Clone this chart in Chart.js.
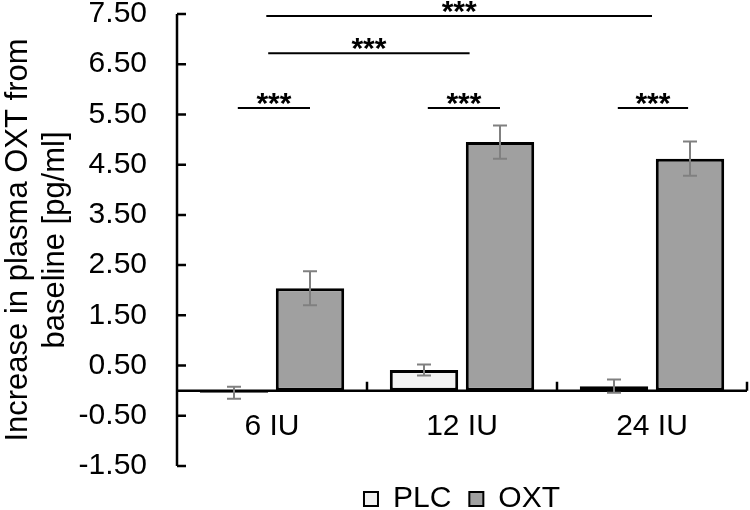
<!DOCTYPE html>
<html>
<head>
<meta charset="utf-8">
<script src="https://cdn.jsdelivr.net/npm/chart.js@4/dist/chart.umd.min.js"></script>
<style>
    html, body { margin: 0; padding: 0; background: #fff; }
    #wrap { width: 750px; height: 510px; }
</style>
</head>
<body>
<div id="wrap"><canvas id="oxt-chart"></canvas></div>
<script>
// Plasma OXT increase per dose
const categories = ['6 IU', '12 IU', '24 IU'];
const plcMeans = [-0.04, 0.41, 0.09];
const plcErrors = [0.12, 0.11, 0.13];
const oxtMeans = [2.04, 4.95, 4.62];
const oxtErrors = [0.34, 0.33, 0.34];
const yTitle = ['Increase in plasma OXT from', 'baseline [pg/ml]'];

// significance brackets, x in category units, y in data units
const sigFrom = [-0.18, 0.82, 1.82, -0.02, -0.03];
const sigTo = [0.2, 1.2, 2.19, 1.04, 2.0];
const sigLevel = [5.63, 5.63, 5.63, 6.72, 7.46];
const sigLabel = ['***', '***', '***', '***', '***'];

const FONT = "'Liberation Sans', Arial, sans-serif";

const errorBarPlugin = {
    id: 'errorBars',
    afterDatasetsDraw(chart) {
        const ctx = chart.ctx;
        const y = chart.scales.y;
        const errs = [plcErrors, oxtErrors];
        ctx.save();
        ctx.strokeStyle = '#808080';
        ctx.lineWidth = 2;
        chart.data.datasets.forEach((ds, i) => {
            chart.getDatasetMeta(i).data.forEach((bar, j) => {
                const top = y.getPixelForValue(ds.data[j] + errs[i][j]);
                const bottom = y.getPixelForValue(ds.data[j] - errs[i][j]);
                ctx.beginPath();
                ctx.moveTo(bar.x, top);
                ctx.lineTo(bar.x, bottom);
                ctx.moveTo(bar.x - 7, top);
                ctx.lineTo(bar.x + 7, top);
                ctx.moveTo(bar.x - 7, bottom);
                ctx.lineTo(bar.x + 7, bottom);
                ctx.stroke();
            });
        });
        ctx.restore();
    }
};

const axesPlugin = {
    id: 'axesLines',
    afterDatasetsDraw(chart) {
        const ctx = chart.ctx;
        const {x, y} = chart.scales;
        const area = chart.chartArea;
        const zero = y.getPixelForValue(0);
        ctx.save();
        ctx.strokeStyle = '#000';
        ctx.lineWidth = 2.5;
        ctx.beginPath();
        // y axis with inward ticks
        ctx.moveTo(area.left, y.getPixelForValue(y.max));
        ctx.lineTo(area.left, y.getPixelForValue(y.min));
        y.ticks.forEach(t => {
            const py = y.getPixelForValue(t.value);
            ctx.moveTo(area.left, py);
            ctx.lineTo(area.left + 9, py);
        });
        // zero line with category separators
        ctx.moveTo(area.left, zero);
        ctx.lineTo(area.right, zero);
        for (let i = 0; i < categories.length; i++) {
            const px = x.getPixelForValue(i + 0.5);
            ctx.moveTo(px, zero);
            ctx.lineTo(px, zero - 9);
        }
        ctx.stroke();
        ctx.restore();
    }
};

const sigPlugin = {
    id: 'significance',
    afterDraw(chart) {
        const ctx = chart.ctx;
        const {x, y} = chart.scales;
        ctx.save();
        ctx.strokeStyle = '#000';
        ctx.fillStyle = '#000';
        ctx.lineWidth = 2;
        ctx.font = 'bold 30px ' + FONT;
        ctx.textAlign = 'center';
        ctx.textBaseline = 'alphabetic';
        sigLevel.forEach((lvl, i) => {
            const x1 = x.getPixelForValue(sigFrom[i]);
            const x2 = x.getPixelForValue(sigTo[i]);
            const py = y.getPixelForValue(lvl);
            ctx.beginPath();
            ctx.moveTo(x1, py);
            ctx.lineTo(x2, py);
            ctx.stroke();
            ctx.fillText(sigLabel[i], (x1 + x2) / 2, py + 5);
        });
        ctx.restore();
    }
};

new Chart(document.getElementById('oxt-chart'), {
    type: 'bar',
    data: {
        labels: categories,
        datasets: [{
            label: 'PLC',
            data: plcMeans,
            backgroundColor: '#f2f2f2',
            borderColor: '#000',
            borderWidth: 3,
            borderSkipped: false
        }, {
            label: 'OXT',
            data: oxtMeans,
            backgroundColor: '#a0a0a0',
            borderColor: '#000',
            borderWidth: 3,
            borderSkipped: false
        }]
    },
    options: {
        responsive: true,
        maintainAspectRatio: false,
        animation: false,
        layout: {
            padding: { top: 14, right: 3, left: 0, bottom: 0 }
        },
        scales: {
            x: {
                position: { y: 0 },
                grid: { display: false, drawTicks: false },
                border: { display: false },
                ticks: {
                    color: '#000',
                    padding: 18,
                    font: { family: FONT, size: 30 }
                },
                afterFit(scale) { scale.height = 0; }
            },
            y: {
                min: -1.5,
                max: 7.5,
                // tickLength only spaces the labels; the grid itself is hidden
                grid: { display: false, drawTicks: true, tickLength: 30 },
                border: { display: false },
                ticks: {
                    stepSize: 1,
                    color: '#000',
                    padding: 0,
                    font: { family: FONT, size: 30, lineHeight: 0.8 },
                    callback: v => Number(v).toFixed(2)
                },
                title: {
                    display: true,
                    text: yTitle,
                    color: '#000',
                    padding: { top: 0, bottom: 0 },
                    font: { family: FONT, size: 31, lineHeight: 1.2 }
                },
                afterFit(scale) { scale.width = 177; }
            }
        },
        plugins: {
            legend: {
                position: 'bottom',
                fullSize: false,
                maxHeight: 44,
                labels: {
                    color: '#000',
                    boxWidth: 14,
                    boxHeight: 14,
                    padding: 18,
                    font: { family: FONT, size: 30 },
                    generateLabels(chart) {
                        return Chart.defaults.plugins.legend.labels.generateLabels(chart)
                            .map(l => Object.assign(l, { lineWidth: 2 }));
                    }
                }
            },
            tooltip: { enabled: false }
        }
    },
    plugins: [axesPlugin, errorBarPlugin, sigPlugin]
});
</script>
</body>
</html>
